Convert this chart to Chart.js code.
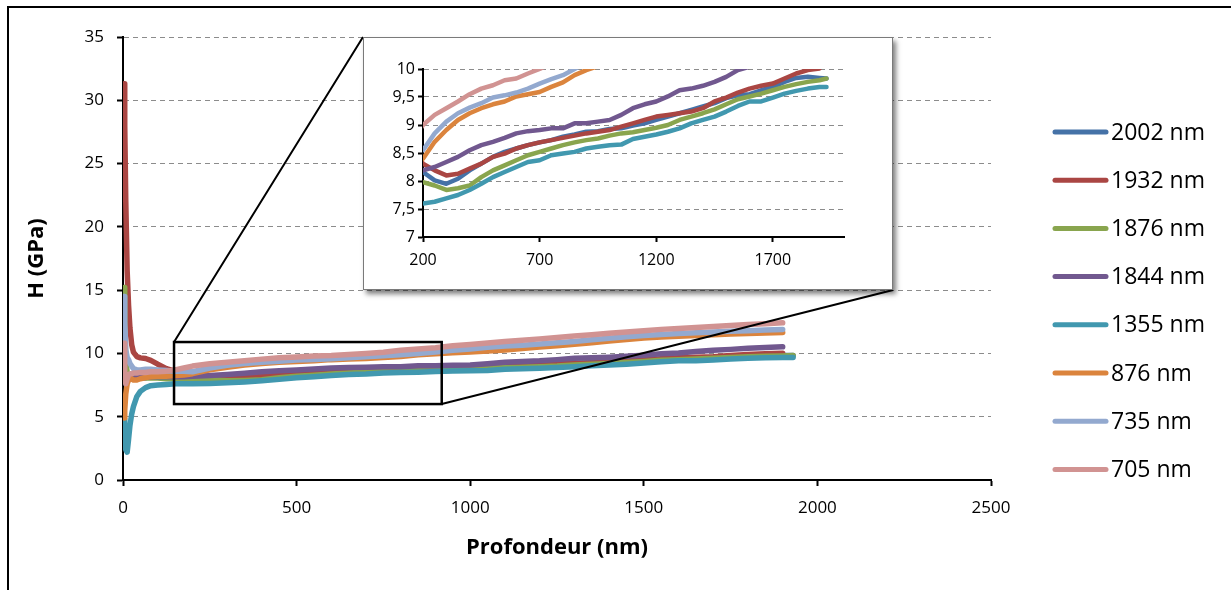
<!DOCTYPE html>
<html>
<head>
<meta charset="utf-8">
<script src="https://cdn.jsdelivr.net/npm/chart.js@4.4.1/dist/chart.umd.min.js"></script>
<style>
  html, body { margin: 0; padding: 0; background: #fff; }
  #wrap { position: relative; width: 1231px; height: 590px; overflow: hidden; }
  #frame { position: absolute; left: 7px; top: 6px; width: 1300px; height: 700px;
           border-top: 2px solid #000; border-left: 2px solid #000; }
  #main { position: absolute; left: 0; top: 0; }
  #insetBox { position: absolute; left: 363px; top: 37px; width: 528px; height: 251px;
              border: 1px solid #7a7a7a; background: #fff;
              box-shadow: 3px 4px 5px rgba(0,0,0,0.5); }
  #inset { display: block; }
</style>
</head>
<body>
<div id="wrap">
  <div id="frame"></div>
  <canvas id="main" width="1231" height="590"></canvas>
  <div id="insetBox"><canvas id="inset" width="528" height="251"></canvas></div>
</div>
<script>
// depth (nm), shared by every series
const depth = [3, 5, 8, 12, 16, 20, 25, 30, 40, 50, 65, 80, 100, 125, 150, 175,
  200, 250, 300, 350, 400, 450, 500, 550, 600, 650, 700, 750, 800, 850, 900, 950, 1000, 1050,
  1100, 1150, 1200, 1250, 1300, 1350, 1400, 1450, 1500, 1550, 1600, 1650, 1700, 1750, 1800, 1850, 1900,
  1930];

const labels = ['2002 nm', '1932 nm', '1876 nm', '1844 nm', '1355 nm', '876 nm', '735 nm', '705 nm'];
const colors = ['#4572a7', '#aa4643', '#89a54e', '#71588f', '#4198af', '#db843d', '#93a9cf', '#d19392'];

// hardness H (GPa)
const h2002 = [8.5, 7.8, 7.6, 7.8, 7.9, 8.0, 8.05, 8.1, 8.1, 8.15, 8.15, 8.2, 8.2, 8.2, 8.2, 8.2,
  8.16, 8.01, 7.95, 8.04, 8.19, 8.31, 8.43, 8.52, 8.58, 8.64, 8.69, 8.73, 8.79, 8.83, 8.88, 8.89, 8.93, 8.94,
  8.99, 9.03, 9.09, 9.15, 9.21, 9.27, 9.33, 9.39, 9.48, 9.53, 9.55, 9.62, 9.68, 9.77, 9.84, 9.86, 9.84,
  9.83];
const h1932 = [31.3, 28, 22, 16.5, 13.8, 12.0, 10.7, 10.1, 9.75, 9.65, 9.6, 9.45, 9.15, 8.8, 8.6, 8.45,
  8.31, 8.19, 8.10, 8.13, 8.22, 8.31, 8.43, 8.49, 8.58, 8.64, 8.69, 8.73, 8.77, 8.81, 8.85, 8.88, 8.91, 8.97,
  9.03, 9.09, 9.15, 9.18, 9.21, 9.24, 9.30, 9.42, 9.49, 9.58, 9.65, 9.70, 9.74, 9.83, 9.92, 9.98, 10.01,
  null];
const h1876 = [15.2, 12.0, 9.5, 8.5, 8.2, 8.1, 8.1, 8.05, 8.05, 8.05, 8.05, 8.05, 8.05, 8.0, 8.0, 8.0,
  7.98, 7.92, 7.84, 7.87, 7.92, 8.07, 8.19, 8.28, 8.37, 8.46, 8.52, 8.58, 8.64, 8.69, 8.73, 8.76, 8.81, 8.85,
  8.87, 8.91, 8.95, 9.0, 9.09, 9.15, 9.21, 9.28, 9.37, 9.46, 9.51, 9.56, 9.62, 9.68, 9.73, 9.77, 9.80,
  9.83];
const h1844 = [8.3, 8.1, 8.0, 8.05, 8.1, 8.1, 8.1, 8.1, 8.1, 8.1, 8.1, 8.15, 8.15, 8.15, 8.15, 8.15,
  8.19, 8.25, 8.34, 8.43, 8.55, 8.64, 8.70, 8.77, 8.85, 8.89, 8.91, 8.94, 8.94, 9.03, 9.03, 9.06, 9.09, 9.18,
  9.30, 9.37, 9.42, 9.51, 9.62, 9.65, 9.70, 9.77, 9.86, 9.98, 10.04, 10.15, 10.25, 10.32, 10.4, 10.46, 10.52,
  null];
const h1355 = [4.8, 3.5, 2.4, 2.2, 3.2, 4.3, 5.2, 5.8, 6.6, 7.0, 7.3, 7.45, 7.5, 7.55, 7.6, 7.6,
  7.60, 7.63, 7.69, 7.75, 7.84, 7.95, 8.07, 8.16, 8.25, 8.34, 8.37, 8.46, 8.49, 8.52, 8.58, 8.61, 8.64, 8.65,
  8.75, 8.79, 8.83, 8.88, 8.94, 9.03, 9.09, 9.15, 9.24, 9.34, 9.42, 9.42, 9.49, 9.56, 9.61, 9.65, 9.68,
  9.68];
const h876 = [4.9, 5.5, 6.8, 7.6, 7.9, 8.0, 8.0, 7.9, 7.9, 8.0, 8.1, 8.15, 8.2, 8.2, 8.25, 8.3,
  8.40, 8.70, 8.91, 9.09, 9.21, 9.30, 9.37, 9.42, 9.51, 9.55, 9.59, 9.68, 9.76, 9.89, 9.98, 10.05, 10.12, 10.2,
  10.28, 10.38, 10.5, 10.6, 10.72, 10.85, 10.98, 11.1, 11.22, 11.3, 11.36, 11.42, 11.48, 11.53, 11.58, 11.62, 11.66,
  null];
const h735 = [14.5, 12.5, 10.3, 9.7, 9.5, 9.2, 9.0, 8.8, 8.7, 8.7, 8.75, 8.75, 8.7, 8.65, 8.6, 8.6,
  8.55, 8.85, 9.06, 9.21, 9.31, 9.39, 9.49, 9.53, 9.58, 9.65, 9.74, 9.82, 9.89, 10.0, 10.12, 10.25, 10.35, 10.48,
  10.58, 10.65, 10.75, 10.85, 10.95, 11.08, 11.2, 11.32, 11.42, 11.5, 11.57, 11.63, 11.7, 11.76, 11.8, 11.85, 11.89,
  null];
const h705 = [10.8, 8.5, 7.6, 8.0, 8.3, 8.4, 8.4, 8.45, 8.45, 8.5, 8.5, 8.55, 8.55, 8.6, 8.7, 8.85,
  9.0, 9.18, 9.30, 9.42, 9.55, 9.65, 9.71, 9.80, 9.83, 9.92, 10.0, 10.1, 10.25, 10.35, 10.45, 10.6, 10.7, 10.82,
  10.95, 11.05, 11.15, 11.25, 11.38, 11.48, 11.6, 11.7, 11.8, 11.9, 11.97, 12.05, 12.12, 12.2, 12.28, 12.35, 12.42,
  null];

const series = [h2002, h1932, h1876, h1844, h1355, h876, h735, h705];

const mainXTicks = [0, 500, 1000, 1500, 2000, 2500];
const insetXTicks = [200, 700, 1200, 1700];

// zoom box drawn on the main chart, in data units
const zoomBox = { x0: 147, x1: 918, y0: 6, y1: 10.9 };

Chart.defaults.font.family = "'Open Sans', sans-serif";
Chart.defaults.color = '#000';

function makeDatasets(width) {
  return series.map((vals, i) => ({
    label: labels[i],
    data: depth.map((d, j) => ({ x: d, y: vals[j] })).filter(p => p.y !== null),
    borderColor: colors[i],
    backgroundColor: colors[i],
    borderWidth: width,
    borderCapStyle: 'round',
    borderJoinStyle: 'round',
    pointRadius: 0,
    tension: 0,
    fill: false,
    order: series.length - i
  }));
}

const zoomLines = {
  id: 'zoomLines',
  afterDatasetsDraw(chart) {
    const { ctx, scales: { x, y } } = chart;
    const l = x.getPixelForValue(zoomBox.x0), r = x.getPixelForValue(zoomBox.x1);
    const t = y.getPixelForValue(zoomBox.y1), b = y.getPixelForValue(zoomBox.y0);
    const box = document.getElementById('insetBox');
    const bl = box.offsetLeft, bt = box.offsetTop;
    const br = bl + box.offsetWidth, bb = bt + box.offsetHeight;
    ctx.save();
    ctx.strokeStyle = '#000';
    ctx.lineWidth = 2.5;
    ctx.strokeRect(l, t, r - l, b - t);
    ctx.lineWidth = 2;
    ctx.beginPath();
    ctx.moveTo(l, t); ctx.lineTo(bl, bt);
    ctx.moveTo(r, b); ctx.lineTo(br, bb);
    ctx.stroke();
    ctx.restore();
  }
};

const sideLegend = {
  id: 'sideLegend',
  afterDraw(chart) {
    const ctx = chart.ctx;
    ctx.save();
    ctx.font = "23px 'Open Sans', sans-serif";
    ctx.textBaseline = 'middle';
    chart.data.datasets.forEach((ds, i) => {
      const yy = 132 + i * 48.2;
      ctx.strokeStyle = ds.borderColor;
      ctx.lineWidth = 5;
      ctx.lineCap = 'round';
      ctx.beginPath();
      ctx.moveTo(1055, yy); ctx.lineTo(1106, yy);
      ctx.stroke();
      ctx.fillStyle = '#000';
      ctx.fillText(ds.label, 1111, yy + 1);
    });
    ctx.restore();
  }
};

const plain = v => String(v);

new Chart(document.getElementById('main'), {
  type: 'line',
  data: { datasets: makeDatasets(5.5) },
  options: {
    responsive: false,
    animation: false,
    devicePixelRatio: 1,
    layout: { padding: { left: 10, top: 37, right: 240, bottom: 0 } },
    plugins: { legend: { display: false }, tooltip: { enabled: false } },
    scales: {
      x: {
        type: 'linear', min: 0, max: 2500,
        afterBuildTicks: s => { s.ticks = mainXTicks.map(v => ({ value: v })); },
        afterFit: s => { s.height = 110; },
        ticks: { font: { size: 17 }, color: '#000', padding: 12, callback: plain },
        grid: { drawOnChartArea: false, tickLength: 6, tickWidth: 2, tickColor: '#000' },
        border: { color: '#000', width: 2 },
        title: { display: true, text: 'Profondeur (nm)', color: '#000',
                 font: { size: 22, weight: 'bold' }, padding: { top: 0, bottom: 29 } }
      },
      y: {
        min: 0, max: 35,
        afterFit: s => { s.width = 113; },
        ticks: { stepSize: 5, font: { size: 17 }, color: '#000', padding: 13, callback: plain },
        grid: { color: '#8c8c8c', lineWidth: 1, tickLength: 6, tickWidth: 2,
                tickColor: '#000', tickBorderDash: [] },
        border: { color: '#000', width: 2, dash: [5, 4] },
        title: { display: true, text: 'H (GPa)', color: '#000',
                 font: { size: 22, weight: 'bold' }, padding: { top: 14, bottom: 0 } }
      }
    }
  },
  plugins: [zoomLines, sideLegend]
});

new Chart(document.getElementById('inset'), {
  type: 'line',
  data: { datasets: makeDatasets(4.5) },
  options: {
    responsive: false,
    animation: false,
    devicePixelRatio: 1,
    layout: { padding: { left: 0, top: 31, right: 48, bottom: 0 } },
    plugins: { legend: { display: false }, tooltip: { enabled: false } },
    scales: {
      x: {
        type: 'linear', min: 200, max: 2005,
        afterBuildTicks: s => { s.ticks = insetXTicks.map(v => ({ value: v })); },
        afterFit: s => { s.height = 52; },
        ticks: { font: { size: 16 }, color: '#000', padding: 9, callback: plain },
        grid: { drawOnChartArea: false, tickLength: 5, tickWidth: 2, tickColor: '#000' },
        border: { color: '#000', width: 2 }
      },
      y: {
        min: 7, max: 10,
        afterFit: s => { s.width = 59; },
        ticks: { stepSize: 0.5, font: { size: 16 }, color: '#000', padding: 3,
                 callback: v => String(v).replace('.', ',') },
        grid: { color: '#8c8c8c', lineWidth: 1, tickLength: 5, tickWidth: 2,
                tickColor: '#000', tickBorderDash: [] },
        border: { color: '#000', width: 2, dash: [5, 4] }
      }
    }
  }
});
</script>
</body>
</html>
